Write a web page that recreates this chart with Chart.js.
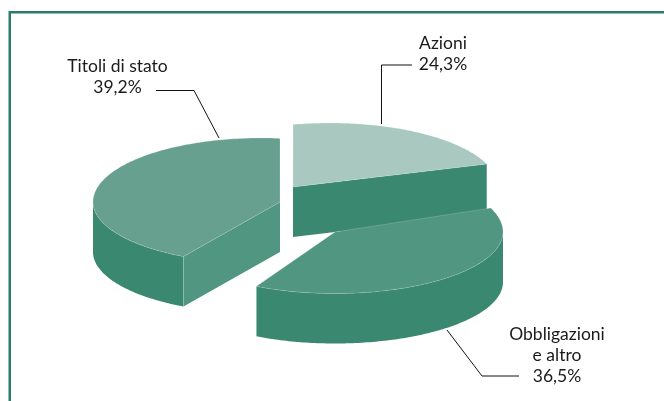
<!DOCTYPE html>
<html><head><meta charset="utf-8">
<style>html,body{margin:0;padding:0;background:#fff}canvas{display:block}</style>
<script src="https://cdn.jsdelivr.net/npm/chart.js@4"></script>
</head><body>
<canvas id="c" width="664" height="401" style="width:664px;height:401px"></canvas>
<script>
const categories = ["Azioni", "Obbligazioni e altro", "Titoli di stato"];
const shares = [24.3, 36.5, 39.2];
const topColors = ["#a8c8c0", "#519680", "#68a08f"];
const rimColor = "#3b8870";
const cutColors = ["#3b8870", "#519680", "#519680"];

// 3D view of the pie: tilt of the disc (far and near half), thickness, exploded offset of each
// slice, shift of each wedge tip, and the drawing's angular skew (degrees) at each slice's two edges.
const view = {
  radius: 168, tiltFar: 0.381, tiltNear: 0.366, depth: 50,
  explode: [[-2, -13.5], [3, 31.5], [-71, 1.5]],
  tip: [[-37, 0], [0, 0], [19, 0]],
  skew: [[-12.7, -18.5], [-19.5, -11], [-11.4, 6.5]]
};

// Text lines and leader lines of the callouts
const calloutLines = [["Azioni"], ["Obbligazioni", "e altro"], ["Titoli di stato"]];
const callouts = [
  {x: 443, y: 49, leader: [[412, 65], [381.5, 65], [381.5, 124]]},
  {x: 557, y: 340, leader: [[447, 330], [482, 376], [519, 376]]},
  {x: 117.5, y: 72, leader: [[156, 90.5], [194, 90.5], [219, 138]]}
];

const pie3d = {
  id: "pie3d",
  beforeDatasetDraw(chart) {
    const ctx = chart.ctx, arcs = chart.getDatasetMeta(0).data;
    const rx = view.radius, d = view.depth;
    // back to front: Titoli, Azioni, Obbligazioni
    [2, 0, 1].forEach(i => {
      const arc = arcs[i];
      const cx = arc.x + view.explode[i][0], cy = arc.y + view.explode[i][1];
      const apex = {x: cx + view.tip[i][0], y: cy + view.tip[i][1]};
      const t0 = (arc.startAngle + Math.PI / 2) * 180 / Math.PI;
      const t1 = (arc.endAngle + Math.PI / 2) * 180 / Math.PI;
      const f0 = t0 + view.skew[i][0], f1 = t1 + view.skew[i][1];
      const rim = f => {
        const c = Math.cos(f * Math.PI / 180);
        return {x: cx + rx * Math.sin(f * Math.PI / 180), y: cy - rx * (c > 0 ? view.tiltFar : view.tiltNear) * c};
      };
      const sweep = (a, b, off) => {
        const n = Math.max(2, Math.ceil(Math.abs(b - a)));
        for (let k = 0; k <= n; k++) {
          const p = rim(a + (b - a) * k / n);
          ctx.lineTo(p.x, p.y + off);
        }
      };
      const seam = "rgba(255,255,255,0.28)";
      ctx.save();
      ctx.lineWidth = 0.6;
      // outer wall
      const w0 = Math.max(f0, 90), w1 = Math.min(f1, 270);
      if (w1 > w0) {
        ctx.beginPath();
        sweep(w0, w1, 0); sweep(w1, w0, d);
        ctx.closePath();
        ctx.fillStyle = rimColor; ctx.fill();
      }
      // cut faces turned toward the viewer
      const s = rim(f0), e = rim(f1);
      const face = (p) => {
        ctx.beginPath();
        ctx.moveTo(apex.x, apex.y); ctx.lineTo(p.x, p.y);
        ctx.lineTo(p.x, p.y + d); ctx.lineTo(apex.x, apex.y + d);
        ctx.closePath();
        ctx.fillStyle = cutColors[i]; ctx.fill();
        ctx.beginPath();
        ctx.moveTo(p.x, p.y); ctx.lineTo(p.x, p.y + d);
        ctx.strokeStyle = seam; ctx.stroke();
      };
      if (s.x < apex.x - 0.5 && f0 > 90) face(s);
      if (e.x > apex.x + 0.5) face(e);
      // top face
      ctx.beginPath();
      ctx.moveTo(apex.x, apex.y);
      sweep(f0, f1, 0);
      ctx.closePath();
      ctx.fillStyle = arc.options.backgroundColor; ctx.fill();
      ctx.strokeStyle = seam; ctx.stroke();
      ctx.restore();
    });
    return false;
  },
  afterDraw(chart) {
    const ctx = chart.ctx;
    ctx.save();
    // frame: left and top sides only
    ctx.strokeStyle = "#2a7d68"; ctx.lineWidth = 2.5;
    ctx.beginPath(); ctx.moveTo(9.75, 401); ctx.lineTo(9.75, 12.25); ctx.lineTo(664, 12.25); ctx.stroke();
    // callouts
    ctx.font = "17.5px Lato, 'Open Sans', sans-serif";
    ctx.textAlign = "center"; ctx.textBaseline = "alphabetic"; ctx.fillStyle = "#1a1a1a";
    callouts.forEach((c, i) => {
      const lines = calloutLines[i].concat(shares[i].toFixed(1).replace(".", ",") + "%");
      lines.forEach((t, k) => ctx.fillText(t, c.x, c.y + k * 21));
      ctx.beginPath(); ctx.strokeStyle = "#111"; ctx.lineWidth = 1;
      c.leader.forEach((p, k) => k ? ctx.lineTo(p[0], p[1]) : ctx.moveTo(p[0], p[1]));
      ctx.stroke();
    });
    ctx.restore();
  }
};

new Chart(document.getElementById("c"), {
  type: "pie",
  data: {labels: categories, datasets: [{data: shares, backgroundColor: topColors, borderWidth: 0}]},
  options: {
    responsive: false, animation: false, events: [],
    rotation: 0, radius: view.radius,
    plugins: {legend: {display: false}, tooltip: {enabled: false}, title: {display: false}}
  },
  plugins: [pie3d]
});
</script>
</body></html>
